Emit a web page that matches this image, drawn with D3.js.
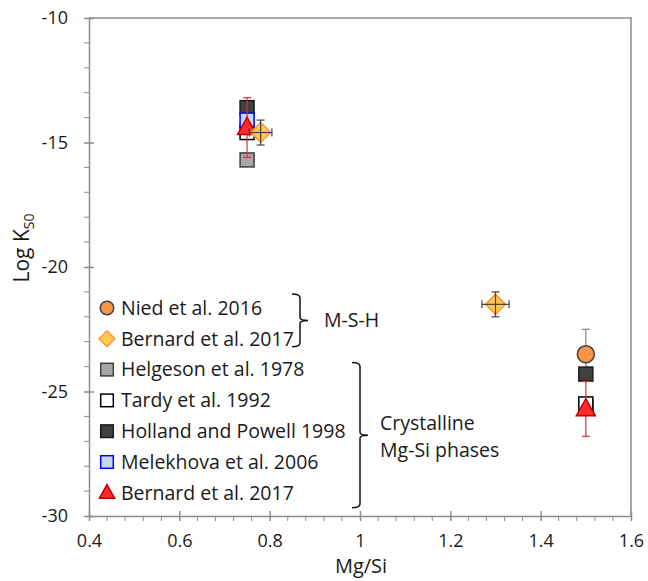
<!DOCTYPE html>
<html>
<head>
<meta charset="utf-8">
<script src="https://cdn.jsdelivr.net/npm/d3@7"></script>
<style>
	body { margin: 0; background: #fff; }
	svg { display: block; font-family: 'Open Sans', sans-serif; }
</style>
</head>
<body>
<svg id="chart" width="648" height="581"></svg>
<script>

// Mg/Si ratio and log Kso, one pair of arrays per data source
var aNiedX = [1.5];
var aNiedY = [-23.5];
var aNiedYErr = [1.0];

var aBernardMshX = [0.78, 1.3];
var aBernardMshY = [-14.6, -21.5];
var aBernardMshXErr = [0.025, 0.03];
var aBernardMshYErr = [0.5, 0.5];

var aHelgesonX = [0.75, 1.5];
var aHelgesonY = [-15.7, -25.6];

var aTardyX = [0.75, 1.5];
var aTardyY = [-14.6, -25.5];

var aHollandX = [0.75, 1.5];
var aHollandY = [-13.6, -24.3];

var aMelekhovaX = [0.75];
var aMelekhovaY = [-14.1];

var aBernardCrystX = [0.75, 1.5];
var aBernardCrystY = [-14.4, -25.7];
var aBernardCrystYErr = [1.2, 1.1];

var aLegendLabels = ['Nied et al. 2016', 'Bernard et al. 2017', 'Helgeson et al. 1978', 'Tardy et al. 1992',
	'Holland and Powell 1998', 'Melekhova et al. 2006', 'Bernard et al. 2017'];

var aXTicks = [0.4, 0.6, 0.8, 1, 1.2, 1.4, 1.6];
var aYTicks = [-10, -15, -20, -25, -30];

function Rows(aX, aY, aXErr, aYErr)
{
	var aRows = [];
	for (var n = 0; n < aX.length; n++)
	{
		aRows.push({ x: aX[n], y: aY[n], xe: aXErr ? aXErr[n] : 0, ye: aYErr ? aYErr[n] : 0 });
	}
	return aRows;
}

var aSeries = [
	{ label: aLegendLabels[2], shape: 'square', fill: '#a6a6a6', stroke: '#404040', size: 14, rows: Rows(aHelgesonX, aHelgesonY) },
	{ label: aLegendLabels[3], shape: 'square', fill: '#ffffff', stroke: '#000000', size: 14, rows: Rows(aTardyX, aTardyY) },
	{ label: aLegendLabels[4], shape: 'square', fill: '#404040', stroke: '#1a1a1a', size: 14, rows: Rows(aHollandX, aHollandY) },
	{ label: aLegendLabels[5], shape: 'square', fill: '#c6d9f1', stroke: '#0000ff', size: 14, rows: Rows(aMelekhovaX, aMelekhovaY) },
	{ label: aLegendLabels[0], shape: 'circle', fill: '#f79646', stroke: '#404040', size: 17, rows: Rows(aNiedX, aNiedY, null, aNiedYErr), errColor: '#808080' },
	{ label: aLegendLabels[6], shape: 'triangle', fill: '#ff2b2b', stroke: '#c00000', size: 19, rows: Rows(aBernardCrystX, aBernardCrystY, null, aBernardCrystYErr), errColor: '#e03030' },
	{ label: aLegendLabels[1], shape: 'diamond', fill: '#ffc94a', stroke: '#f79646', size: 20, rows: Rows(aBernardMshX, aBernardMshY, aBernardMshXErr, aBernardMshYErr), errColor: '#404040' }
];

var sSvg = d3.select('#chart');

var nLeft = 89;
var nTop = 18;
var nRight = 631;
var nBottom = 516;
var strAxisColor = '#8c8c8c';
var strTextColor = '#1a1a1a';
var strFont = "'Open Sans', sans-serif";

var scaleX = d3.scaleLinear().domain([0.4, 1.6]).range([nLeft, nRight]);
var scaleY = d3.scaleLinear().domain([-30, -10]).range([nBottom, nTop]);

// frame (top and right)
sSvg.append('path')
	.attr('d', 'M' + nLeft + ',' + nTop + 'H' + nRight + 'V' + nBottom)
	.attr('fill', 'none')
	.attr('stroke', strAxisColor)
	.attr('stroke-width', 1.5);

// minor ticks
var sMinor = sSvg.append('g').attr('stroke', strAxisColor).attr('stroke-width', 1);
d3.range(0.44, 1.6, 0.04).forEach(function(f)
{
	if (Math.abs(f * 5 - Math.round(f * 5)) < 0.01) return;
	sMinor.append('line').attr('x1', scaleX(f)).attr('x2', scaleX(f)).attr('y1', nBottom).attr('y2', nBottom + 5);
});
d3.range(-29, -10, 1).forEach(function(f)
{
	if (f % 5 == 0) return;
	sMinor.append('line').attr('x1', nLeft - 5).attr('x2', nLeft).attr('y1', scaleY(f)).attr('y2', scaleY(f));
});

var axisX = d3.axisBottom(scaleX)
	.tickValues(aXTicks)
	.tickSizeInner(10)
	.tickSizeOuter(0)
	.tickFormat(function(f) { return String(f); });

var axisY = d3.axisLeft(scaleY)
	.tickValues(aYTicks)
	.tickSizeInner(10)
	.tickSizeOuter(0)
	.tickFormat(function(f) { return String(f); });

var sAxisX = sSvg.append('g')
	.attr('transform', 'translate(0,' + nBottom + ')')
	.call(axisX);
sAxisX.selectAll('.tick line').attr('y1', -5).attr('y2', 5);
sAxisX.selectAll('.tick text').attr('y', 25).attr('dy', '0.35em');

var sAxisY = sSvg.append('g')
	.attr('transform', 'translate(' + nLeft + ',0)')
	.call(axisY);
sAxisY.selectAll('.tick line').attr('x1', -5).attr('x2', 5);
sAxisY.selectAll('.tick text').attr('x', -21);

[sAxisX, sAxisY].forEach(function(s)
{
	s.select('.domain').attr('stroke', strAxisColor).attr('stroke-width', 1.5);
	s.selectAll('.tick line').attr('stroke', strAxisColor).attr('stroke-width', 1.5);
	s.selectAll('.tick text').attr('fill', strTextColor).style('font-size', '18px').style('font-family', strFont);
});

// axis titles
sSvg.append('text')
	.attr('x', (nLeft + nRight) / 2 + 1)
	.attr('y', 566)
	.attr('dy', '0.35em')
	.attr('text-anchor', 'middle')
	.style('font-size', '20px')
	.attr('fill', strTextColor)
	.text('Mg/Si');

var sYTitle = sSvg.append('text')
	.attr('transform', 'translate(29,248) rotate(-90)')
	.attr('text-anchor', 'middle')
	.style('font-size', '21px')
	.attr('fill', strTextColor);
sYTitle.append('tspan').text('Log K');
sYTitle.append('tspan').attr('dy', 5).style('font-size', '14px').text('S0');

function DrawMarker(sParent, oSeries, nX, nY, nScale)
{
	var nSize = oSeries.size * nScale;
	var sMark;
	if (oSeries.shape == 'square')
	{
		sMark = sParent.append('rect').attr('x', nX - nSize / 2).attr('y', nY - nSize / 2).attr('width', nSize).attr('height', nSize);
	}
	else if (oSeries.shape == 'circle')
	{
		sMark = sParent.append('circle').attr('cx', nX).attr('cy', nY).attr('r', nSize / 2);
	}
	else if (oSeries.shape == 'triangle')
	{
		var h = nSize * 0.9;
		sMark = sParent.append('path').attr('d', 'M' + nX + ',' + (nY - h * 0.6) + 'L' + (nX + nSize / 2) + ',' + (nY + h * 0.4) + 'L' + (nX - nSize / 2) + ',' + (nY + h * 0.4) + 'Z');
	}
	else
	{
		var r = nSize / 2;
		sMark = sParent.append('path').attr('d', 'M' + nX + ',' + (nY - r) + 'L' + (nX + r) + ',' + nY + 'L' + nX + ',' + (nY + r) + 'L' + (nX - r) + ',' + nY + 'Z');
	}
	sMark.attr('fill', oSeries.fill).attr('stroke', oSeries.stroke).attr('stroke-width', 1.5);
	return sMark;
}

function DrawErrors(sParent, oSeries, oRow)
{
	var sErr = sParent.append('g').attr('stroke', oSeries.errColor).attr('stroke-width', 1.2);
	var cx = scaleX(oRow.x);
	var cy = scaleY(oRow.y);
	if (oRow.ye > 0)
	{
		var y1 = scaleY(oRow.y + oRow.ye);
		var y2 = scaleY(oRow.y - oRow.ye);
		sErr.append('line').attr('x1', cx).attr('x2', cx).attr('y1', y1).attr('y2', y2);
		sErr.append('line').attr('x1', cx - 4).attr('x2', cx + 4).attr('y1', y1).attr('y2', y1);
		sErr.append('line').attr('x1', cx - 4).attr('x2', cx + 4).attr('y1', y2).attr('y2', y2);
	}
	if (oRow.xe > 0)
	{
		var x1 = scaleX(oRow.x - oRow.xe);
		var x2 = scaleX(oRow.x + oRow.xe);
		sErr.append('line').attr('x1', x1).attr('x2', x2).attr('y1', cy).attr('y2', cy);
		sErr.append('line').attr('x1', x1).attr('x2', x1).attr('y1', cy - 4).attr('y2', cy + 4);
		sErr.append('line').attr('x1', x2).attr('x2', x2).attr('y1', cy - 4).attr('y2', cy + 4);
	}
}

var sPlot = sSvg.append('g');

// error bars behind, markers, then the triangle/diamond bars on top
aSeries.forEach(function(oSeries)
{
	oSeries.rows.forEach(function(oRow)
	{
		if (oSeries.errColor && oSeries.shape == 'circle') DrawErrors(sPlot, oSeries, oRow);
	});
});
aSeries.forEach(function(oSeries)
{
	oSeries.rows.forEach(function(oRow)
	{
		if (oSeries.shape == 'triangle') DrawErrors(sPlot, oSeries, oRow);
		DrawMarker(sPlot, oSeries, scaleX(oRow.x), scaleY(oRow.y), 1);
		if (oSeries.shape == 'diamond') DrawErrors(sPlot, oSeries, oRow);
	});
});

// legend
var aLegendOrder = [4, 6, 0, 1, 2, 3, 5];
var nLegendY = 308;
var nLegendStep = 30.8;
var sLegend = sSvg.append('g');
aLegendOrder.forEach(function(nSeries, nIndex)
{
	var oSeries = aSeries[nSeries];
	var y = nLegendY + nIndex * nLegendStep;
	DrawMarker(sLegend, oSeries, 107, y, oSeries.shape == 'square' ? 0.9 : 0.8);
	sLegend.append('text')
		.attr('x', 121)
		.attr('y', y)
		.attr('dy', '0.35em')
		.style('font-size', '19.5px')
		.attr('fill', strTextColor)
		.text(oSeries.label);
});

// group braces
function DrawBrace(x, yTop, yBottom, strLines, nTextX)
{
	var yMid = (yTop + yBottom) / 2;
	sSvg.append('path')
		.attr('d', 'M' + (x - 8) + ',' + yTop + 'Q' + x + ',' + yTop + ' ' + x + ',' + (yTop + 4)
			+ 'V' + (yMid - 3) + 'Q' + x + ',' + yMid + ' ' + (x + 8) + ',' + yMid
			+ 'Q' + x + ',' + yMid + ' ' + x + ',' + (yMid + 3)
			+ 'V' + (yBottom - 4) + 'Q' + x + ',' + yBottom + ' ' + (x - 8) + ',' + yBottom)
		.attr('fill', 'none')
		.attr('stroke', '#111')
		.attr('stroke-width', 1.5);
	var sText = sSvg.append('text')
		.style('font-size', '19.5px')
		.attr('fill', strTextColor);
	strLines.forEach(function(str, n)
	{
		sText.append('tspan')
			.attr('x', nTextX)
			.attr('y', yMid - 12 * (strLines.length - 1) + n * 27)
			.attr('dy', '0.35em')
			.text(str);
	});
}

DrawBrace(300, nLegendY - 14, nLegendY + nLegendStep + 8, ['M-S-H'], 324);
DrawBrace(360, nLegendY + 2 * nLegendStep - 7, nLegendY + 6 * nLegendStep + 15, ['Crystalline', 'Mg-Si phases'], 380);

</script>
</body>
</html>
